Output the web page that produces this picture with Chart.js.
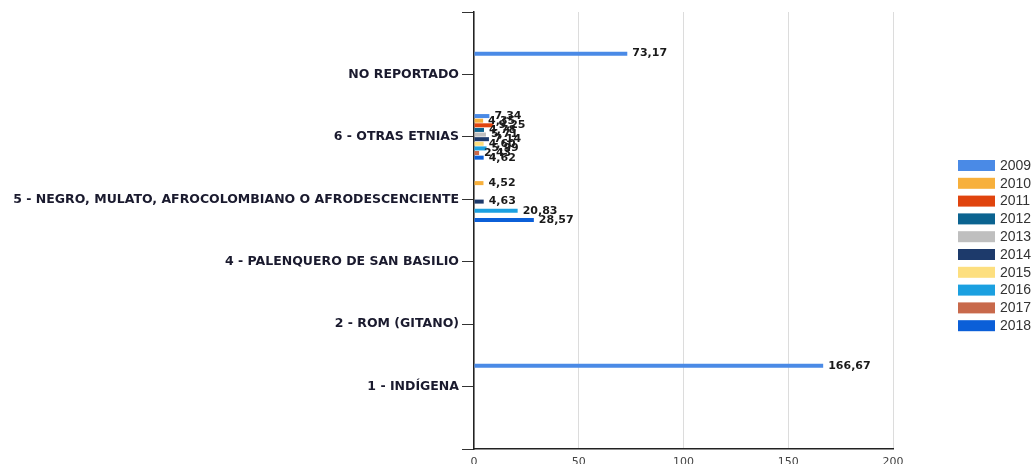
<!DOCTYPE html>
<html>
<head>
<meta charset="utf-8">
<script src="https://cdn.jsdelivr.net/npm/chart.js@4/dist/chart.umd.min.js"></script>
<style>
  html, body { margin: 0; padding: 0; background: #fff; overflow: hidden; }
  #wrap { width: 1035px; height: 464px; position: relative; }
</style>
</head>
<body>
<div id="wrap"><canvas id="chart"></canvas></div>
<script>
/* DATA */
const categories = [
  "NO REPORTADO",
  "6 - OTRAS ETNIAS",
  "5 - NEGRO, MULATO, AFROCOLOMBIANO O AFRODESCENCIENTE",
  "4 - PALENQUERO DE SAN BASILIO",
  "2 - ROM (GITANO)",
  "1 - INDÍGENA"
];
const years = ["2009", "2010", "2011", "2012", "2013", "2014", "2015", "2016", "2017", "2018"];
const colors = ["#4a8ae6", "#f7b03c", "#e0440e", "#0b6390", "#bfbfbf", "#1d3a6b", "#fddf7f", "#1ba0e0", "#c8694b", "#0b5fd8"];

// one value per category, same order as categories
const v2009 = [73.17, 7.34, null, null, null, 166.67];
const v2010 = [null, 4.35, 4.52, null, null, null];
const v2011 = [null, 9.25, null, null, null, null];
const v2012 = [null, 4.78, null, null, null, null];
const v2013 = [null, 5.71, null, null, null, null];
const v2014 = [null, 7.14, 4.63, null, null, null];
const v2015 = [null, 4.60, null, null, null, null];
const v2016 = [null, 5.99, 20.83, null, null, null];
const v2017 = [null, 2.43, null, null, null, null];
const v2018 = [null, 4.62, 28.57, null, null, null];
const series = [v2009, v2010, v2011, v2012, v2013, v2014, v2015, v2016, v2017, v2018];

const xTicks = [0, 50, 100, 150, 200];

/* CHART */
// empty slots at both ends keep the categories off the axis edges
const labels = [""].concat(categories, [""]);
const datasets = series.map((s, i) => ({
  label: years[i],
  data: [null].concat(s, [null]),
  backgroundColor: colors[i],
  categoryPercentage: 0.74,
  barPercentage: 0.87
}));

const fmt = v => v.toFixed(2).replace(".", ",");

const valueLabels = {
  id: "valueLabels",
  afterDatasetsDraw(chart) {
    const ctx = chart.ctx;
    ctx.save();
    ctx.font = "bold 11px 'DejaVu Sans'";
    ctx.fillStyle = "#1a1a1a";
    ctx.textBaseline = "middle";
    chart.data.datasets.forEach((ds, i) => {
      chart.getDatasetMeta(i).data.forEach((el, j) => {
        const v = ds.data[j];
        if (v == null) return;
        ctx.fillText(fmt(v), el.x + 5, el.y);
      });
    });
    ctx.restore();
  }
};

const sideLegend = {
  id: "sideLegend",
  afterDraw(chart) {
    const ctx = chart.ctx;
    ctx.save();
    ctx.font = "14px 'Liberation Sans'";
    ctx.textBaseline = "middle";
    chart.data.datasets.forEach((ds, i) => {
      const y = 165 + i * 17.8;
      ctx.fillStyle = ds.backgroundColor;
      ctx.fillRect(958, y - 5, 37, 11);
      ctx.fillStyle = "#333";
      ctx.fillText(ds.label, 1000, y + 1);
    });
    ctx.restore();
  }
};

new Chart(document.getElementById("chart"), {
  type: "bar",
  data: { labels, datasets },
  plugins: [valueLabels, sideLegend],
  options: {
    indexAxis: "y",
    responsive: true,
    maintainAspectRatio: false,
    animation: false,
    layout: { padding: { top: 12, right: 142, left: 0, bottom: 0 } },
    plugins: {
      legend: { display: false },
      tooltip: { enabled: false }
    },
    scales: {
      x: {
        min: 0,
        max: 200,
        afterBuildTicks: s => { s.ticks = xTicks.map(v => ({ value: v })); },
        afterFit: s => { s.height = 15; },
        grid: { color: "#dcdcdc", drawTicks: false },
        border: { color: "#222", width: 1.5 },
        ticks: { padding: 7, color: "#444", font: { family: "DejaVu Sans", size: 11 } }
      },
      y: {
        offset: false,
        afterFit: s => { s.width = 474; },
        grid: { offset: false, drawOnChartArea: false, color: "#333", tickLength: 12 },
        border: { color: "#222", width: 1.5 },
        ticks: {
          autoSkip: false,
          padding: 3,
          color: "#1a1a2e",
          font: { family: "DejaVu Sans", size: 12.5, weight: "bold" }
        }
      }
    }
  }
});
</script>
</body>
</html>
